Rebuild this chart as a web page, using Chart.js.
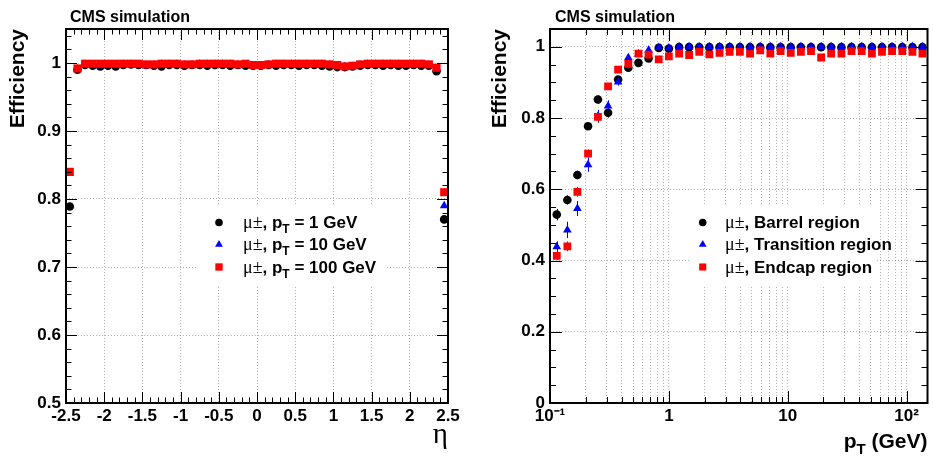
<!DOCTYPE html>
<html>
<head>
<meta charset="utf-8">
<script src="https://cdn.jsdelivr.net/npm/chart.js@4.4.1/dist/chart.umd.min.js"></script>
<style>
  html, body { margin: 0; padding: 0; background: #fff; }
  #wrap { position: relative; width: 933px; height: 459px; }
  #etaBox { position: absolute; left: 0; top: 0; width: 470px; height: 459px; }
  #ptBox { position: absolute; left: 470px; top: 0; width: 463px; height: 459px; }
</style>
</head>
<body>
<div id="wrap">
  <div id="etaBox"><canvas id="etaChart" width="470" height="459"></canvas></div>
  <div id="ptBox"><canvas id="ptChart" width="463" height="459"></canvas></div>
</div>
<script>
// Left panel: efficiency vs eta
const etaValues = [-2.45, -2.35, -2.25, -2.15, -2.05, -1.95, -1.85, -1.75, -1.65, -1.55,
  -1.45, -1.35, -1.25, -1.15, -1.05, -0.95, -0.85, -0.75, -0.65, -0.55,
  -0.45, -0.35, -0.25, -0.15, -0.05, 0.05, 0.15, 0.25, 0.35, 0.45,
  0.55, 0.65, 0.75, 0.85, 0.95, 1.05, 1.15, 1.25, 1.35, 1.45,
  1.55, 1.65, 1.75, 1.85, 1.95, 2.05, 2.15, 2.25, 2.35, 2.45];
const effPt1 = [0.789, 0.990, 0.997, 0.996, 0.995, 0.996, 0.995, 0.997, 0.998, 0.997,
  0.997, 0.996, 0.995, 0.997, 0.997, 0.996, 0.997, 0.997, 0.996, 0.997,
  0.997, 0.996, 0.997, 0.996, 0.996, 0.996, 0.997, 0.996, 0.997, 0.997,
  0.996, 0.997, 0.997, 0.996, 0.995, 0.994, 0.994, 0.995, 0.996, 0.997,
  0.997, 0.996, 0.997, 0.996, 0.996, 0.997, 0.996, 0.996, 0.988, 0.770];
const effPt10 = [0.838, 0.991, 0.998, 0.997, 0.996, 0.997, 0.997, 0.998, 0.998, 0.997,
  0.996, 0.997, 0.998, 0.998, 0.998, 0.997, 0.997, 0.998, 0.998, 0.998,
  0.998, 0.998, 0.997, 0.997, 0.996, 0.996, 0.997, 0.998, 0.998, 0.998,
  0.998, 0.998, 0.998, 0.998, 0.997, 0.996, 0.995, 0.995, 0.997, 0.998,
  0.998, 0.998, 0.998, 0.998, 0.997, 0.998, 0.998, 0.997, 0.991, 0.790];
const effPt100 = [0.840, 0.992, 0.999, 0.999, 0.999, 0.999, 0.999, 0.999, 0.999, 0.999,
  0.998, 0.998, 0.999, 0.999, 0.999, 0.998, 0.998, 0.999, 0.999, 0.999,
  0.999, 0.999, 0.998, 0.999, 0.997, 0.997, 0.998, 0.999, 0.999, 0.999,
  0.999, 0.999, 0.999, 0.999, 0.998, 0.997, 0.995, 0.996, 0.998, 0.999,
  0.999, 0.999, 0.999, 0.999, 0.999, 0.999, 0.999, 0.998, 0.993, 0.810];
const etaTicks = [-2.5, -2, -1.5, -1, -0.5, 0, 0.5, 1, 1.5, 2, 2.5];
const effTicksEta = [0.5, 0.6, 0.7, 0.8, 0.9, 1];

// Right panel: efficiency vs pT
const ptValues = [0.114, 0.14, 0.17, 0.209, 0.253, 0.308, 0.374, 0.456, 0.555, 0.675,
  0.822, 1.0, 1.22, 1.48, 1.8, 2.19, 2.67, 3.25, 3.96, 4.82,
  5.87, 7.14, 8.71, 10.6, 12.9, 15.7, 19.1, 23.2, 28.3, 34.4,
  41.9, 51.1, 62.1, 75.5, 92.0, 112, 136];
const effBarrel = [0.529, 0.570, 0.640, 0.777, 0.852, 0.815, 0.908, 0.941, 0.955, 0.967,
  0.997, 0.995, 0.999, 0.999, 0.999, 0.999, 0.999, 0.999, 0.999, 0.999,
  0.999, 0.999, 0.999, 0.999, 0.999, 0.999, 0.999, 0.999, 0.999, 0.999,
  0.999, 0.999, 0.999, 0.999, 0.999, 0.999, 0.999];
const effTransition = [0.439, 0.486, 0.546, 0.669, 0.805, 0.834, 0.901, 0.969, 0.980, 0.990,
  0.998, 0.997, 1.0, 1.0, 1.0, 1.0, 1.0, 1.0, 1.0, 1.0,
  1.0, 1.0, 1.0, 1.0, 1.0, 1.0, 1.0, 1.0, 1.0, 1.0,
  1.0, 1.0, 1.0, 1.0, 1.0, 1.0, 1.0];
const effEndcap = [0.413, 0.440, 0.593, 0.700, 0.803, 0.889, 0.936, 0.952, 0.981, 0.978,
  0.965, 0.973, 0.981, 0.977, 0.986, 0.979, 0.983, 0.986, 0.986, 0.981,
  0.990, 0.981, 0.988, 0.983, 0.986, 0.988, 0.970, 0.981, 0.981, 0.988,
  0.988, 0.981, 0.986, 0.988, 0.988, 0.986, 0.981];
const errBarrel = [0.016, 0.013, 0.012, 0.010, 0.012, 0.014, 0.008, 0.006, 0.005, 0.004, 0.002, 0.002];
const errTransition = [0.015, 0.023, 0.021, 0.020, 0.018, 0.016, 0.010, 0.008, 0.006, 0.005, 0.003, 0.002];
const errEndcap = [0.012, 0.014, 0.014, 0.012, 0.010, 0.008, 0.006, 0.005, 0.004, 0.004, 0.003, 0.002];
const ptTicks = [0.1, 1, 10, 100];
const ptTickLabels = ['10⁻¹', '1', '10', '10²'];
const effTicksPt = [0, 0.2, 0.4, 0.6, 0.8, 1];

const SANS = "'Liberation Sans', Arial, sans-serif";
const SERIF = "'Liberation Serif', 'Times New Roman', serif";
Chart.defaults.font.family = SANS;
Chart.defaults.font.size = 17;
Chart.defaults.font.weight = 'bold';
Chart.defaults.color = '#000';

const pts = (xs, ys) => xs.map((x, i) => ({ x: x, y: ys[i] }));

function richWidth(ctx, parts) {
  let w = 0;
  parts.forEach(p => { ctx.font = p.font; w += ctx.measureText(p.t).width; });
  return w;
}
function drawRich(ctx, x, y, parts) {
  parts.forEach(p => {
    ctx.font = p.font;
    ctx.fillText(p.t, x, y + (p.dy || 0));
    x += ctx.measureText(p.t).width;
  });
}
function line(ctx, x1, y1, x2, y2) {
  ctx.beginPath(); ctx.moveTo(x1, y1); ctx.lineTo(x2, y2); ctx.stroke();
}

// frame, inner ticks, titles and legend, ROOT style
function decor(cfg) {
  return {
    id: 'decor',
    beforeDatasetsDraw(chart) {
      const ctx = chart.ctx;
      const b = cfg.legendBox;
      ctx.save();
      ctx.fillStyle = '#fff';
      ctx.fillRect(b[0], b[1], b[2], b[3]);
      const y = chart.scales.y;
      chart.data.datasets.forEach((ds, i) => {
        if (!ds.err) return;
        const meta = chart.getDatasetMeta(i);
        ctx.strokeStyle = ds.backgroundColor;
        ctx.lineWidth = 1;
        ds.data.forEach((p, j) => {
          const e = ds.err[j];
          if (!e) return;
          const px = Math.round(meta.data[j].x) + 0.5;
          line(ctx, px, y.getPixelForValue(p.y - e), px, y.getPixelForValue(p.y + e));
        });
      });
      ctx.restore();
    },
    afterDraw(chart) {
      const ctx = chart.ctx;
      const a = chart.chartArea;
      const sx = chart.scales.x, sy = chart.scales.y;
      ctx.save();
      ctx.strokeStyle = '#000';
      ctx.lineWidth = 1;
      cfg.xMarks().forEach(([v, len]) => {
        const px = Math.round(sx.getPixelForValue(v)) + 0.5;
        line(ctx, px, a.bottom, px, a.bottom - len);
        line(ctx, px, a.top, px, a.top + len);
      });
      cfg.yMarks().forEach(([v, len]) => {
        const py = Math.round(sy.getPixelForValue(v)) + 0.5;
        line(ctx, a.left, py, a.left + len, py);
        line(ctx, a.right, py, a.right - len, py);
      });
      ctx.lineWidth = 2;
      ctx.strokeRect(a.left, a.top, a.right - a.left, a.bottom - a.top);

      ctx.fillStyle = '#000';
      ctx.textBaseline = 'alphabetic';
      ctx.textAlign = 'left';
      ctx.font = 'bold 16px ' + SANS;
      ctx.fillText('CMS simulation', cfg.titleX, 21.5);

      // y title
      ctx.save();
      ctx.translate(cfg.yTitleX, a.top);
      ctx.rotate(-Math.PI / 2);
      ctx.textAlign = 'right';
      ctx.textBaseline = 'middle';
      ctx.font = 'bold 21px ' + SANS;
      ctx.fillText('Efficiency', 0, 0);
      ctx.restore();

      // x title
      const xt = cfg.xTitle;
      drawRich(ctx, a.right - richWidth(ctx, xt.parts), xt.y, xt.parts);

      // legend
      const lg = cfg.legend;
      lg.rows.forEach((r, i) => {
        const ds = chart.data.datasets[i];
        ctx.fillStyle = ds.backgroundColor;
        Chart.helpers.drawPoint(ctx, { pointStyle: ds.pointStyle, radius: ds.pointRadius - 0.5, rotation: 0, borderWidth: 0 }, lg.markerX, r - 5.5);
        ctx.fillStyle = '#000';
        drawRich(ctx, lg.textX, r, lg.parts[i]);
      });
      ctx.restore();
    }
  };
}

const bold = 'bold 17px ' + SANS;
const sub = 'bold 12px ' + SANS;
const mu = '18px ' + SERIF;

function gridOpts() {
  return { color: 'rgba(0,0,0,0.3)', lineWidth: 1, drawTicks: false };
}

// ---------- eta chart ----------
new Chart(document.getElementById('etaChart'), {
  type: 'scatter',
  data: {
    datasets: [
      { label: '1 GeV', data: pts(etaValues, effPt1), backgroundColor: '#000', pointStyle: 'circle', pointRadius: 4.3, order: 2 },
      { label: '10 GeV', data: pts(etaValues, effPt10), backgroundColor: '#0000ff', pointStyle: 'triangle', pointRadius: 5, order: 1 },
      { label: '100 GeV', data: pts(etaValues, effPt100), backgroundColor: '#ff0000', pointStyle: 'rect', pointRadius: 5.7, order: 0 }
    ]
  },
  options: {
    responsive: false,
    devicePixelRatio: 1,
    animation: false,
    events: [],
    layout: { padding: { top: 29, right: 22, left: 0, bottom: 0 } },
    elements: { point: { borderWidth: 0, hoverRadius: 0 } },
    plugins: { legend: { display: false }, tooltip: { enabled: false } },
    scales: {
      x: {
        type: 'linear', min: -2.5, max: 2.5,
        grid: gridOpts(),
        border: { display: false, dash: [1, 2] },
        afterBuildTicks: s => { s.ticks = etaTicks.map(v => ({ value: v })); },
        afterFit: s => { s.height = 56; },
        ticks: { autoSkip: false, maxRotation: 0, padding: 3, callback: v => String(Math.round(v * 10) / 10) }
      },
      y: {
        type: 'linear', min: 0.5, max: 1.05,
        grid: gridOpts(),
        border: { display: false, dash: [1, 2] },
        afterBuildTicks: s => { s.ticks = effTicksEta.map(v => ({ value: v })); },
        afterFit: s => { s.width = 66; },
        ticks: { autoSkip: false, padding: 5, callback: v => String(Math.round(v * 10) / 10) }
      }
    }
  },
  plugins: [decor({
    titleX: 70,
    yTitleX: 18,
    legendBox: [198, 205, 187, 80],
    xMarks: () => {
      const m = [];
      for (let i = -25; i <= 25; i++) m.push([i / 10, i % 5 === 0 ? 11 : 5.5]);
      return m;
    },
    yMarks: () => {
      const m = [];
      for (let i = 25; i <= 52; i++) m.push([i / 50, i % 5 === 0 ? 11 : 5.5]);
      return m;
    },
    xTitle: { y: 443, parts: [{ t: 'η', font: '29px ' + SERIF }] },
    legend: {
      markerX: 219, textX: 243, rows: [228, 250, 272.5],
      parts: ['1 GeV', '10 GeV', '100 GeV'].map(e => [
        { t: 'μ±', font: mu }, { t: ', p', font: bold }, { t: 'T', font: sub, dy: 5 }, { t: ' = ' + e, font: bold }
      ])
    }
  })]
});

// ---------- pT chart ----------
new Chart(document.getElementById('ptChart'), {
  type: 'scatter',
  data: {
    datasets: [
      { label: 'Barrel', data: pts(ptValues, effBarrel), err: errBarrel, backgroundColor: '#000', pointStyle: 'circle', pointRadius: 4.3, order: 2 },
      { label: 'Transition', data: pts(ptValues, effTransition), err: errTransition, backgroundColor: '#0000ff', pointStyle: 'triangle', pointRadius: 5, order: 1 },
      { label: 'Endcap', data: pts(ptValues, effEndcap), err: errEndcap, backgroundColor: '#ff0000', pointStyle: 'rect', pointRadius: 5.5, order: 0 }
    ]
  },
  options: {
    responsive: false,
    devicePixelRatio: 1,
    animation: false,
    events: [],
    layout: { padding: { top: 29, right: 1, left: 0, bottom: 0 } },
    elements: { point: { borderWidth: 0, hoverRadius: 0 } },
    plugins: { legend: { display: false }, tooltip: { enabled: false } },
    scales: {
      x: {
        type: 'logarithmic', min: 0.1, max: 150,
        grid: gridOpts(),
        border: { display: false, dash: [1, 2] },
        afterBuildTicks: s => {
          const t = [];
          ptTicks.forEach(d => { for (let k = 1; k <= 9; k++) if (k * d <= 150) t.push({ value: +(k * d).toPrecision(3) }); });
          s.ticks = t;
        },
        afterFit: s => { s.height = 56; },
        ticks: {
          autoSkip: false, maxRotation: 0, padding: 3,
          callback: v => {
            const i = ptTicks.findIndex(p => Math.abs(p - v) < p * 1e-6);
            return i < 0 ? '' : ptTickLabels[i];
          }
        }
      },
      y: {
        type: 'linear', min: 0, max: 1.05,
        grid: gridOpts(),
        border: { display: false, dash: [1, 2] },
        afterBuildTicks: s => { s.ticks = effTicksPt.map(v => ({ value: v })); },
        afterFit: s => { s.width = 80; },
        ticks: { autoSkip: false, padding: 5, callback: v => String(Math.round(v * 10) / 10) }
      }
    }
  },
  plugins: [decor({
    titleX: 85,
    yTitleX: 30,
    legendBox: [220, 205, 187, 80],
    xMarks: () => {
      const m = [];
      ptTicks.forEach(d => { for (let k = 1; k <= 9; k++) if (k * d <= 150) m.push([k * d, k === 1 ? 12 : 6]); });
      return m;
    },
    yMarks: () => {
      const m = [];
      for (let i = 0; i <= 21; i++) m.push([i / 20, i % 4 === 0 ? 12 : 6]);
      return m;
    },
    xTitle: { y: 448, parts: [{ t: 'p', font: 'bold 21px ' + SANS }, { t: 'T', font: 'bold 15px ' + SANS, dy: 6 }, { t: ' (GeV)', font: 'bold 21px ' + SANS }] },
    legend: {
      markerX: 232.7, textX: 255, rows: [228, 250, 272.5],
      parts: ['Barrel region', 'Transition region', 'Endcap region'].map(e => [
        { t: 'μ±', font: mu }, { t: ', ' + e, font: bold }
      ])
    }
  })]
});
</script>
</body>
</html>
